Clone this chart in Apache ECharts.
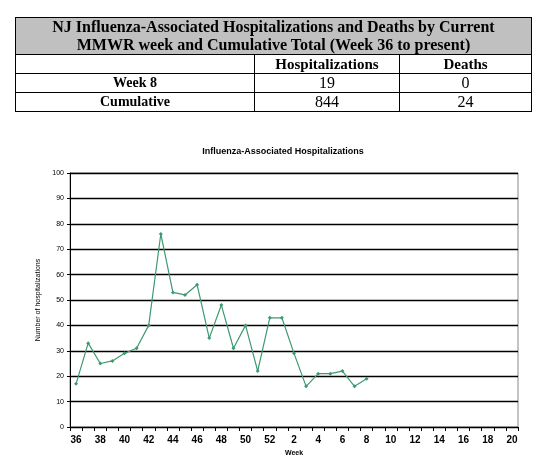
<!DOCTYPE html>
<html>
<head>
<meta charset="utf-8">
<script src="https://cdn.jsdelivr.net/npm/echarts@6/dist/echarts.min.js"></script>
<style>
  html, body { margin: 0; padding: 0; background: #fff; }
  #chart { position: absolute; left: 0; top: 0; width: 560px; height: 464px; }
  #summary {
    position: absolute; left: 15px; top: 17px; width: 517px;
    border-collapse: collapse; font-family: "Liberation Serif", "Times New Roman", serif;
    color: #000; z-index: 2;
  }
  #summary td { border: 1.5px solid #000; text-align: center; padding: 0; height: 18px; }
  #summary .head { background: #c0c0c0; font-weight: bold; font-size: 16px; line-height: 18px; height: 36px; }
  #summary .lab { font-weight: bold; font-size: 14px; }
  #summary .colhead { font-weight: bold; font-size: 15px; }
  #summary .num { font-size: 16px; }
</style>
</head>
<body>
<div id="chart"></div>
<table id="summary">
  <tr><td class="head" colspan="3">NJ Influenza-Associated Hospitalizations and Deaths by Current<br>MMWR week and Cumulative Total (Week 36 to present)</td></tr>
  <tr><td style="width:238px"></td><td class="colhead" style="width:144px">Hospitalizations</td><td class="colhead">Deaths</td></tr>
  <tr><td class="lab" id="r1"></td><td class="num" id="r1h"></td><td class="num" id="r1d"></td></tr>
  <tr><td class="lab" id="r2"></td><td class="num" id="r2h"></td><td class="num" id="r2d"></td></tr>
</table>
<script>
  // summary table values
  var rowLabels = ['Week 8', 'Cumulative'];
  var rowHosp = [19, 844];
  var rowDeaths = [0, 24];

  // MMWR weeks 36..52 then 1..20
  var weeks = ['36', '37', '38', '39', '40', '41', '42', '43', '44', '45', '46', '47', '48',
    '49', '50', '51', '52', '1', '2', '3', '4', '5', '6', '7', '8', '9', '10', '11', '12',
    '13', '14', '15', '16', '17', '18', '19', '20'];
  var hospitalizations = [17, 33, 25, 26, 29, 31, 40, 76, 53, 52, 56, 35, 48,
    31, 40, 22, 43, 43, 29, 16, 21, 21, 22, 16, 19];

  document.getElementById('r1').textContent = rowLabels[0];
  document.getElementById('r1h').textContent = rowHosp[0];
  document.getElementById('r1d').textContent = rowDeaths[0];
  document.getElementById('r2').textContent = rowLabels[1];
  document.getElementById('r2h').textContent = rowHosp[1];
  document.getElementById('r2d').textContent = rowDeaths[1];

  var chart = echarts.init(document.getElementById('chart'));
  chart.setOption({
    backgroundColor: 'transparent',
    animation: false,
    title: {
      text: 'Influenza-Associated Hospitalizations',
      left: 278, top: 142, textAlign: 'center',
      textStyle: { fontFamily: 'Liberation Sans, Arial', fontSize: 9, fontWeight: 'bold', color: '#000' }
    },
    grid: { left: 70, right: 42, top: 173, bottom: 37, show: true, borderColor: '#888', borderWidth: 1 },
    xAxis: {
      type: 'category',
      data: weeks,
      boundaryGap: true,
      name: 'Week',
      nameLocation: 'middle',
      nameGap: 22,
      nameTextStyle: { fontFamily: 'Liberation Sans, Arial', fontSize: 7, fontWeight: 'bold', color: '#000' },
      axisLine: { lineStyle: { color: '#000', width: 1 } },
      axisTick: { show: true, interval: 0, length: 4, lineStyle: { color: '#000' } },
      axisLabel: { interval: 1, margin: 8, fontFamily: 'Liberation Sans, Arial', fontSize: 10, fontWeight: 'bold', color: '#000' },
      splitLine: { show: false }
    },
    yAxis: {
      type: 'value',
      min: 0, max: 100, interval: 10,
      name: 'Number of hospitalizations',
      nameLocation: 'middle',
      nameRotate: 90,
      nameGap: 24,
      nameTextStyle: { fontFamily: 'Liberation Sans, Arial', fontSize: 7, color: '#000' },
      axisLine: { show: true, lineStyle: { color: '#000', width: 1 } },
      axisTick: { show: true, length: 3, lineStyle: { color: '#000' } },
      axisLabel: { margin: 6, fontFamily: 'Liberation Sans, Arial', fontSize: 7, color: '#000' },
      splitLine: { show: true, lineStyle: { color: '#000', width: 1.3 } }
    },
    series: [{
      type: 'line',
      data: hospitalizations,
      symbol: 'diamond',
      symbolSize: 4,
      lineStyle: { color: '#3d9970', width: 1.2 },
      itemStyle: { color: '#3d9970' }
    }]
  });
</script>
</body>
</html>
